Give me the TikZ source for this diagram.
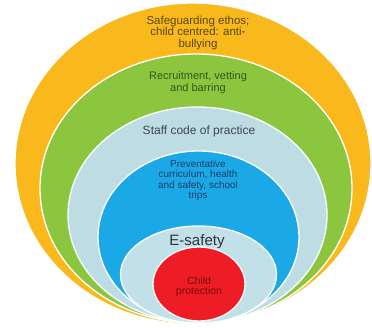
\documentclass[tikz,border=0pt]{standalone}
\usepackage{fontspec}
\setmainfont{Liberation Sans}
\definecolor{cOrange}{HTML}{F9B91C}
\definecolor{cGreen}{HTML}{8CC63F}
\definecolor{cPale}{HTML}{BDDCE3}
\definecolor{cBlue}{HTML}{1BA8E6}
\definecolor{cPale2}{HTML}{C2E0E8}
\definecolor{cRed}{HTML}{EE1C25}
\definecolor{tOrange}{HTML}{5A4710}
\definecolor{tGreen}{HTML}{2E5A1C}
\definecolor{tPale}{HTML}{3B4852}
\definecolor{tBlue}{HTML}{1E3D66}
\definecolor{tPale2}{HTML}{2A333B}
\definecolor{tRed}{HTML}{7A0C0C}
\tikzset{
  ring/.style={draw=white, line width=1.3pt},
  lbl/.style={align=center, inner sep=0pt}
}
\begin{document}
\begin{tikzpicture}[x=1pt,y=-1pt]
\useasboundingbox (0,0) rectangle (372,328);
\fill[white] (0,0) rectangle (372,328);
\filldraw[ring, fill=cOrange] (193,163.5) ellipse [x radius=178, y radius=160.5];
\filldraw[ring, fill=cGreen] (196,188.5) ellipse [x radius=156, y radius=134.5];
\filldraw[ring, fill=cPale] (197.5,215) ellipse [x radius=129.5, y radius=108];
\filldraw[ring, fill=cBlue] (198.5,237) ellipse [x radius=100.5, y radius=86];
\filldraw[ring, fill=cPale2] (198.5,274.5) ellipse [x radius=78, y radius=48.5];
\filldraw[ring, fill=cRed] (199,284) ellipse [x radius=46, y radius=37];
\node[lbl, text=tOrange, font=\fontsize{11.5}{11.5}\selectfont] (safe) at (198,33) {Safeguarding ethos;\\child centred: anti-\\bullying};
\node[lbl, text=tGreen, font=\fontsize{11}{11.5}\selectfont] (recr) at (198,82.5) {Recruitment, vetting\\and barring};
\node[lbl, text=tPale, font=\fontsize{12}{12}\selectfont] (staff) at (199,131) {Staff code of practice};
\node[lbl, text=tBlue, font=\fontsize{10}{10.3}\selectfont] (prev) at (198,180.5) {Preventative\\curriculum, health\\and safety, school\\trips};
\node[lbl, text=tPale2, font=\fontsize{15}{15}\selectfont] (esafe) at (197,241.5) {E-safety};
\node[lbl, text=tRed, font=\fontsize{10.5}{10.5}\selectfont] (child) at (199,287) {Child\\protection};
\end{tikzpicture}
\end{document}
